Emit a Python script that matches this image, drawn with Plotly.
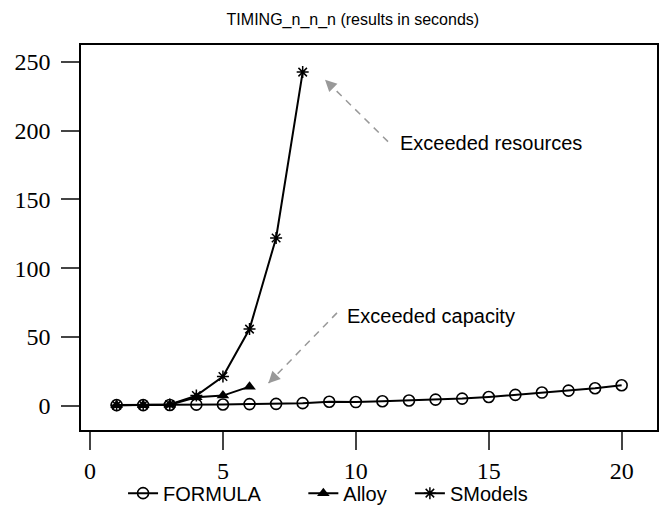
import plotly.graph_objects as go

# ---- data ----
formula_x = list(range(1, 21))
formula_y = [0.6, 0.6, 0.7, 0.9, 1.0, 1.3, 1.5, 2.0, 3.0, 2.8, 3.4, 3.9, 4.6, 5.3, 6.5, 8.0, 9.7, 11.1, 12.8, 15.0]
alloy_x = [1, 2, 3, 4, 5, 6]
alloy_y = [0.5, 0.5, 0.8, 6.3, 7.5, 14.0]
smodels_x = [1, 2, 3, 4, 5, 6, 7, 8]
smodels_y = [0.5, 0.6, 1.0, 7.5, 21.3, 55.8, 122.0, 242.5]

x_ticks = [0, 5, 10, 15, 20]
y_ticks = [0, 50, 100, 150, 200, 250]

title_text = "TIMING_n_n_n (results in seconds)"
note_resources = "Exceeded resources"
note_capacity = "Exceeded capacity"

# arrow positions (data coords): head, tail
res_head = (8.84, 237)
res_tail = (11.21, 192)
cap_head = (6.71, 16.5)
cap_tail = (9.29, 67.6)

fig = go.Figure()
fig.add_trace(go.Scatter(x=formula_x, y=formula_y, name="FORMULA", mode="lines+markers",
                         legend="legend",
                         line=dict(color="black", width=2),
                         marker=dict(symbol="circle-open", size=11, color="black", line=dict(width=1.6))))
fig.add_trace(go.Scatter(x=alloy_x, y=alloy_y, name="Alloy", mode="lines+markers",
                         legend="legend2",
                         line=dict(color="black", width=2),
                         marker=dict(symbol="triangle-up", size=11, color="black")))
fig.add_trace(go.Scatter(x=smodels_x, y=smodels_y, name="SModels", mode="lines+markers",
                         legend="legend3",
                         line=dict(color="black", width=2),
                         marker=dict(symbol="asterisk-open", size=10, color="black", line=dict(width=1.5, color="black"))))

gray = "#999999"
for head, tail in [(res_head, res_tail), (cap_head, cap_tail)]:
    fig.add_shape(type="line", x0=tail[0], y0=tail[1], x1=head[0], y1=head[1],
                  xref="x", yref="y", line=dict(color=gray, width=1.5, dash="7px,6px"))
    dx = tail[0] - head[0]
    dy = tail[1] - head[1]
    fig.add_annotation(x=head[0], y=head[1], ax=head[0] + dx * 0.12, ay=head[1] + dy * 0.12,
                       axref="x", ayref="y", xref="x", yref="y", text="", showarrow=True,
                       arrowhead=2, arrowsize=1.3, arrowwidth=1.8, arrowcolor=gray)

fig.add_annotation(x=11.59, y=191.3, xref="x", yref="y", text=note_resources, showarrow=False,
                   xanchor="left", yanchor="middle",
                   font=dict(family="Liberation Sans, Arial", size=20, color="black"))
fig.add_annotation(x=9.6, y=65.5, xref="x", yref="y", text=note_capacity, showarrow=False,
                   xanchor="left", yanchor="middle",
                   font=dict(family="Liberation Sans, Arial", size=20, color="black"))

axis_common = dict(showgrid=False, zeroline=False, showline=True, mirror=True,
                   linecolor="black", linewidth=1.5, ticks="outside", ticklen=18,
                   tickwidth=1.5, tickcolor="#444444",
                   tickfont=dict(family="Liberation Serif, Times New Roman, serif", size=24, color="black"))

legend_common = dict(orientation="h", xanchor="left", y=-0.164, yanchor="middle",
                     font=dict(family="Liberation Sans, Arial", size=20, color="black"),
                     bgcolor="rgba(0,0,0,0)", itemwidth=30)

fig.update_layout(
    width=671, height=506,
    margin=dict(l=81, r=14, t=45, b=76, autoexpand=False),
    paper_bgcolor="white", plot_bgcolor="white",
    title=dict(text=title_text, x=0.472, xref="paper", xanchor="center", y=0.962, yanchor="middle",
               font=dict(family="Liberation Sans, Arial", size=16, color="black")),
    xaxis=dict(range=[-0.34, 21.33], tickvals=x_ticks, **axis_common),
    yaxis=dict(range=[-17.5, 262.2], tickvals=y_ticks, ticklabelstandoff=6, **axis_common),
    showlegend=True,
    legend=dict(x=0.073, **legend_common),
    legend2=dict(x=0.386, **legend_common),
    legend3=dict(x=0.571, **legend_common),
)

fig.write_html("out.html")
